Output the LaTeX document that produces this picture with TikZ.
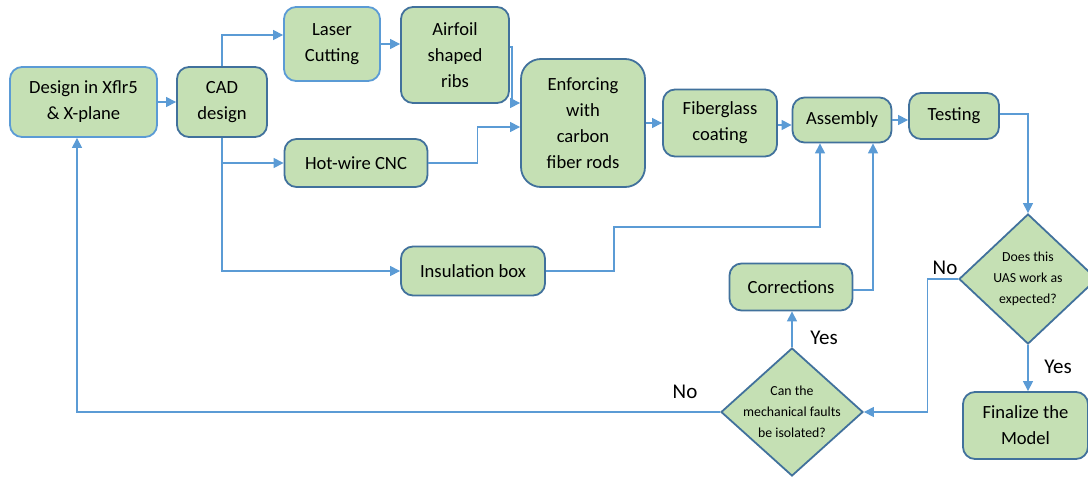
\documentclass[tikz,border=0pt]{standalone}
\usepackage{fontspec}
\setmainfont{Carlito}
\usepackage{xcolor}
\usepackage{tikz}
\usetikzlibrary{positioning, arrows.meta, shapes.geometric}
\definecolor{boxgreen}{HTML}{C5E0B4}
\definecolor{boxedge}{HTML}{41719C}
\definecolor{lightedge}{HTML}{5B9BD5}
\definecolor{flowblue}{HTML}{5B9BD5}

\begin{document}
\begin{tikzpicture}[x=0.5pt, y=-0.5pt,
    stepbox/.style={fill=boxgreen, draw=boxedge, line width=0.9pt, rounded corners=6pt,
        inner sep=0pt, align=center, font=\fontsize{9.3}{13}\selectfont},
    lightbox/.style={stepbox, draw=lightedge},
    question/.style={diamond, fill=boxgreen, draw=boxedge, line width=0.9pt, aspect=1.1,
        inner xsep=-4pt, inner ysep=-3pt, align=center, font=\fontsize{6.9}{10.5}\selectfont},
    flow/.style={draw=flowblue, line width=0.6pt, -{Triangle[length=5pt, width=5pt]}},
    answer/.style={font=\fontsize{10.5}{12}\selectfont}]
  \useasboundingbox (0,0) rectangle (1088,477);

  % process boxes
  \node[lightbox, minimum width=73.5pt, minimum height=35pt] (design) at (83.5,102) {Design in Xflr5\\\& X-plane};
  \node[stepbox, minimum width=45pt, minimum height=35pt] (cad) at (222,102) {CAD\\design};
  \node[lightbox, minimum width=48pt, minimum height=37pt] (laser) at (332,44) {Laser\\Cutting};
  \node[stepbox, minimum width=54pt, minimum height=48pt] (airfoil) at (455,55) {Airfoil\\shaped\\ribs};
  \node[stepbox, minimum width=71.5pt, minimum height=24pt] (hotwire) at (356,163) {Hot-wire CNC};
  \node[stepbox, rounded corners=10pt, minimum width=62pt, minimum height=64pt] (enforce) at (583,123) {Enforcing\\with\\carbon\\fiber rods};
  \node[stepbox, minimum width=57pt, minimum height=33.5pt] (fiber) at (720,123) {Fiberglass\\coating};
  \node[stepbox, minimum width=49.5pt, minimum height=22.5pt] (assembly) at (842,120) {Assembly};
  \node[stepbox, minimum width=45pt, minimum height=23pt] (testing) at (954,116) {Testing};
  \node[stepbox, minimum width=72pt, minimum height=24.5pt] (insul) at (473,271) {Insulation box};
  \node[stepbox, minimum width=61.5pt, minimum height=23.5pt] (corr) at (791,287) {Corrections};
  \node[stepbox, minimum width=62.5pt, minimum height=33.5pt] (final) at (1025.5,425.5) {Finalize the\\Model};

  % decisions
  \node[question, minimum width=71pt, minimum height=64pt] (canq) at (792,412) {Can the\\mechanical faults\\be isolated?};
  \node[question, minimum width=69pt, minimum height=65pt] (does) at (1028,279) {Does this\\UAS work as\\expected?};

  % answers
  \node[answer] (yesa) at (824,338) {Yes};
  \node[answer] (yesb) at (1058,367) {Yes};
  \node[answer] (noa) at (945,268) {No};
  \node[answer] (nob) at (685,392) {No};

  % connectors
  \draw[flow] (design) -- (cad);
  \draw[flow] (cad.north) |- ([yshift=4.5pt]laser.west);
  \draw[flow] (cad.south) |- (hotwire.west);
  \draw[flow] (cad.south) |- (insul.west);
  \draw[flow] (laser.east) -- (laser.east -| airfoil.west);
  \draw[flow] ([yshift=4pt]airfoil.east) -- ++(2,0) |- ([yshift=10pt]enforce.west);
  \draw[flow] (hotwire.east) -- ++(49,0) |- ([yshift=-2pt]enforce.west);
  \draw[flow] (enforce) -- (fiber);
  \draw[flow] ([yshift=-1pt]fiber.east) -- ([yshift=-1pt]fiber.east -| assembly.west);
  \draw[flow] (assembly.east) -- (assembly.east -| testing.west);
  \draw[flow] ([yshift=1pt]testing.east) -| (does.north);
  \draw[flow] (does.south) -- (does.south |- final.north);
  \draw[flow] (does.west) -- ++(-31,0) |- (canq.east);
  \draw[flow] (canq.north) -- (canq.north |- corr.south);
  \draw[flow] (canq.west) -| ([xshift=-3.25pt]design.south);
  \draw[flow] ([yshift=-1.5pt]corr.east) -| ([xshift=15.5pt]assembly.south);
  \draw[flow] (insul.east) -- ++(68,0) -- ++(0,-44) -| ([xshift=-11pt]assembly.south);
\end{tikzpicture}
\end{document}
